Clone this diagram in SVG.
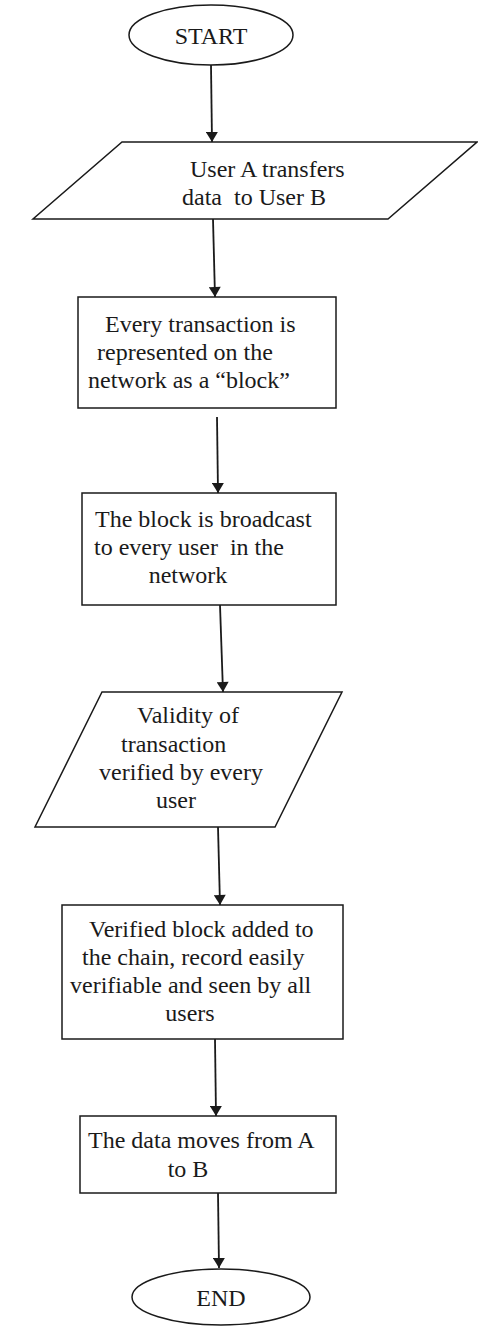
<svg xmlns="http://www.w3.org/2000/svg" width="478" height="1326" viewBox="0 0 478 1326">
  <style>
    .shape { fill: #ffffff; stroke: #1a1a1a; stroke-width: 1.5; }
    .edge { fill: none; stroke: #1a1a1a; stroke-width: 1.8; marker-end: url(#arrow); }
    text { font-family: "Liberation Serif", "Times New Roman", serif; font-size: 24px; fill: #1a1a1a; }
  </style>
  <defs>
    <marker id="arrow" viewBox="0 0 10 12" refX="10" refY="6" markerWidth="13" markerHeight="12" markerUnits="userSpaceOnUse" orient="auto">
      <path d="M0,0 L10,6 L0,12 Z" fill="#1a1a1a"/>
    </marker>
  </defs>

  <!-- connectors -->
  <g id="connectors">
    <line class="edge" x1="211" y1="65" x2="212" y2="142"/>
    <line class="edge" x1="213" y1="219" x2="215" y2="297"/>
    <line class="edge" x1="217" y1="417" x2="218" y2="493"/>
    <line class="edge" x1="220" y1="605" x2="223" y2="692"/>
    <line class="edge" x1="218" y1="827" x2="220" y2="905"/>
    <line class="edge" x1="215" y1="1039" x2="216" y2="1116"/>
    <line class="edge" x1="218" y1="1193" x2="219" y2="1268"/>
  </g>

  <!-- START terminal -->
  <g id="start">
    <ellipse class="shape" cx="211" cy="35" rx="82" ry="30"/>
    <text x="211" y="44" text-anchor="middle">START</text>
  </g>

  <!-- input: transfer -->
  <g id="transfer">
    <polygon class="shape" points="122,142 477,142 388,219 33,219"/>
    <text x="190" y="177">User A transfers</text>
    <text x="182" y="205" xml:space="preserve">data  to User B</text>
  </g>

  <!-- process: block creation -->
  <g id="block">
    <rect class="shape" x="78" y="297" width="258" height="111"/>
    <text x="105" y="332">Every transaction is</text>
    <text x="97" y="360">represented on the</text>
    <text x="88" y="388">network as a “block”</text>
  </g>

  <!-- process: broadcast -->
  <g id="broadcast">
    <rect class="shape" x="82" y="493" width="254" height="112"/>
    <text x="95" y="527">The block is broadcast</text>
    <text x="94" y="555" xml:space="preserve">to every user  in the</text>
    <text x="188" y="583" text-anchor="middle">network</text>
  </g>

  <!-- input: validation -->
  <g id="validate">
    <polygon class="shape" points="102,692 342,692 275,827 35,827"/>
    <text x="137" y="723">Validity of</text>
    <text x="121" y="752">transaction</text>
    <text x="263" y="780" text-anchor="end">verified by every</text>
    <text x="176" y="808" text-anchor="middle">user</text>
  </g>

  <!-- process: add to chain -->
  <g id="chain">
    <rect class="shape" x="62" y="905" width="281" height="134"/>
    <text x="89" y="937">Verified block added to</text>
    <text x="82" y="965">the chain, record easily</text>
    <text x="70" y="993">verifiable and seen by all</text>
    <text x="190" y="1021" text-anchor="middle">users</text>
  </g>

  <!-- process: data moves -->
  <g id="move">
    <rect class="shape" x="80" y="1116" width="256" height="77"/>
    <text x="88" y="1148">The data moves from A</text>
    <text x="188" y="1177" text-anchor="middle">to B</text>
  </g>

  <!-- END terminal -->
  <g id="end">
    <ellipse class="shape" cx="221" cy="1297" rx="89" ry="28"/>
    <text x="221" y="1306" text-anchor="middle">END</text>
  </g>
</svg>
